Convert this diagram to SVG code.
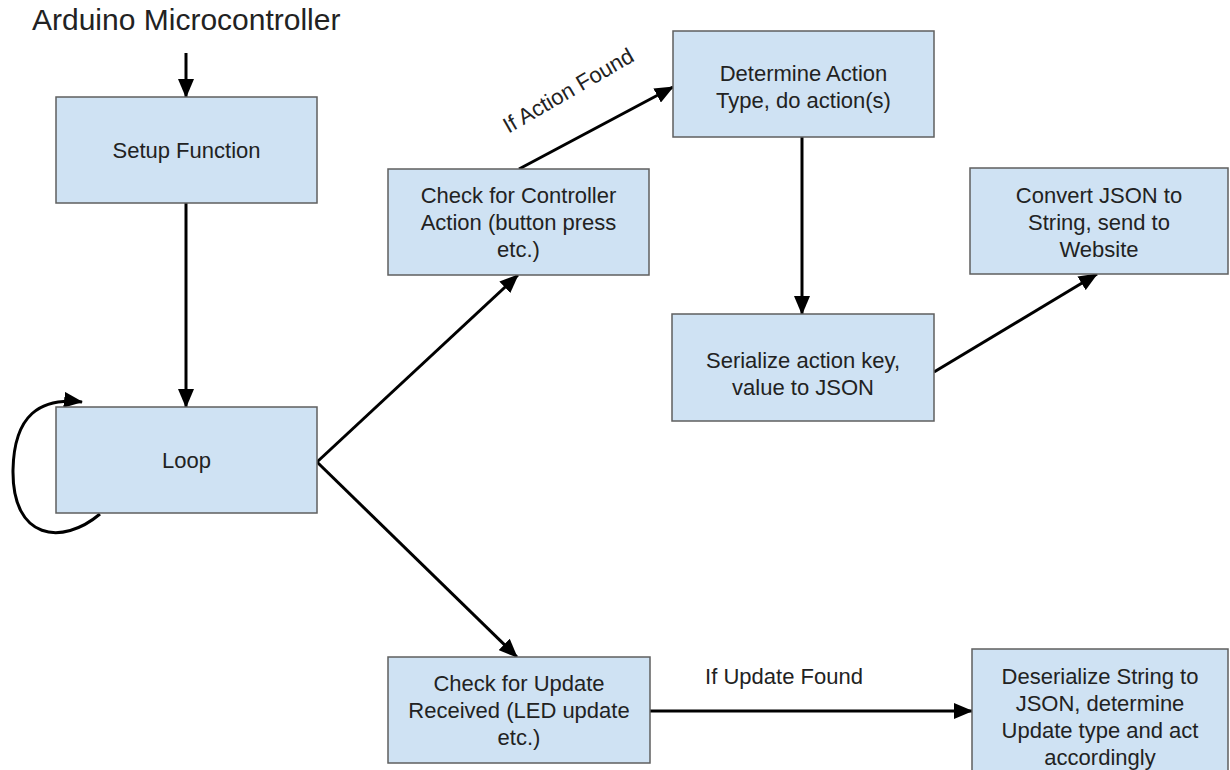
<svg xmlns="http://www.w3.org/2000/svg" width="1230" height="770" viewBox="0 0 1230 770">
<style>
.box{fill:#cfe2f3;stroke:#5f5f5f;stroke-width:1.5}
.t{font-family:"Liberation Sans",Arial,sans-serif;font-size:22px;fill:#222;text-anchor:middle}
.c{fill:none;stroke:#000;stroke-width:3}
</style>
<defs>
<marker id="ah" markerUnits="userSpaceOnUse" markerWidth="20" markerHeight="16" refX="18" refY="8" orient="auto">
<path d="M0,0 L19,8 L0,16 z" fill="#000"/>
</marker>
</defs>
<rect width="1230" height="770" fill="#fff"/>
<text x="32" y="30" style="font-family:'Liberation Sans',Arial,sans-serif;font-size:30px;fill:#222">Arduino Microcontroller</text>
<g id="connectors">
<path class="c" d="M186,53 L186,97" marker-end="url(#ah)"/>
<path class="c" d="M186,203 L186,407" marker-end="url(#ah)"/>
<path class="c" d="M100,514 C62,546 12,540 13,470 C14,415 40,397 82,402" marker-end="url(#ah)"/>
<path class="c" d="M317,462 L518,275" marker-end="url(#ah)"/>
<path class="c" d="M317,462 L517,657" marker-end="url(#ah)"/>
<path class="c" d="M519,169 L673,87" marker-end="url(#ah)"/>
<path class="c" d="M802,137 L802,314" marker-end="url(#ah)"/>
<path class="c" d="M934,372 L1097,274" marker-end="url(#ah)"/>
<path class="c" d="M650,711 L972,711" marker-end="url(#ah)"/>
<text class="t" transform="translate(572,97) rotate(-30)">If Action Found</text>
<text class="t" x="784" y="684">If Update Found</text>
</g>
<g id="setup">
<rect class="box" x="56" y="97" width="261" height="106"/>
<text class="t" x="186.5" y="158">Setup Function</text>
</g>
<g id="loop">
<rect class="box" x="56" y="407" width="261" height="106"/>
<text class="t" x="186.5" y="468">Loop</text>
</g>
<g id="check-controller">
<rect class="box" x="388" y="169" width="261" height="106"/>
<text class="t" x="518.5" y="203">Check for Controller</text>
<text class="t" x="518.5" y="230">Action (button press</text>
<text class="t" x="518.5" y="257">etc.)</text>
</g>
<g id="determine">
<rect class="box" x="673" y="31" width="261" height="106"/>
<text class="t" x="803.5" y="81">Determine Action</text>
<text class="t" x="803.5" y="108">Type, do action(s)</text>
</g>
<g id="serialize">
<rect class="box" x="672" y="314" width="262" height="107"/>
<text class="t" x="803" y="368">Serialize action key,</text>
<text class="t" x="803" y="395">value to JSON</text>
</g>
<g id="convert">
<rect class="box" x="970" y="168" width="258" height="106"/>
<text class="t" x="1099" y="203">Convert JSON to</text>
<text class="t" x="1099" y="230">String, send to</text>
<text class="t" x="1099" y="257">Website</text>
</g>
<g id="check-update">
<rect class="box" x="388" y="657" width="262" height="106"/>
<text class="t" x="519" y="691">Check for Update</text>
<text class="t" x="519" y="718">Received (LED update</text>
<text class="t" x="519" y="745">etc.)</text>
</g>
<g id="deserialize">
<rect class="box" x="972" y="649" width="256" height="125"/>
<text class="t" x="1100" y="684">Deserialize String to</text>
<text class="t" x="1100" y="711">JSON, determine</text>
<text class="t" x="1100" y="738">Update type and act</text>
<text class="t" x="1100" y="765">accordingly</text>
</g>
</svg>
